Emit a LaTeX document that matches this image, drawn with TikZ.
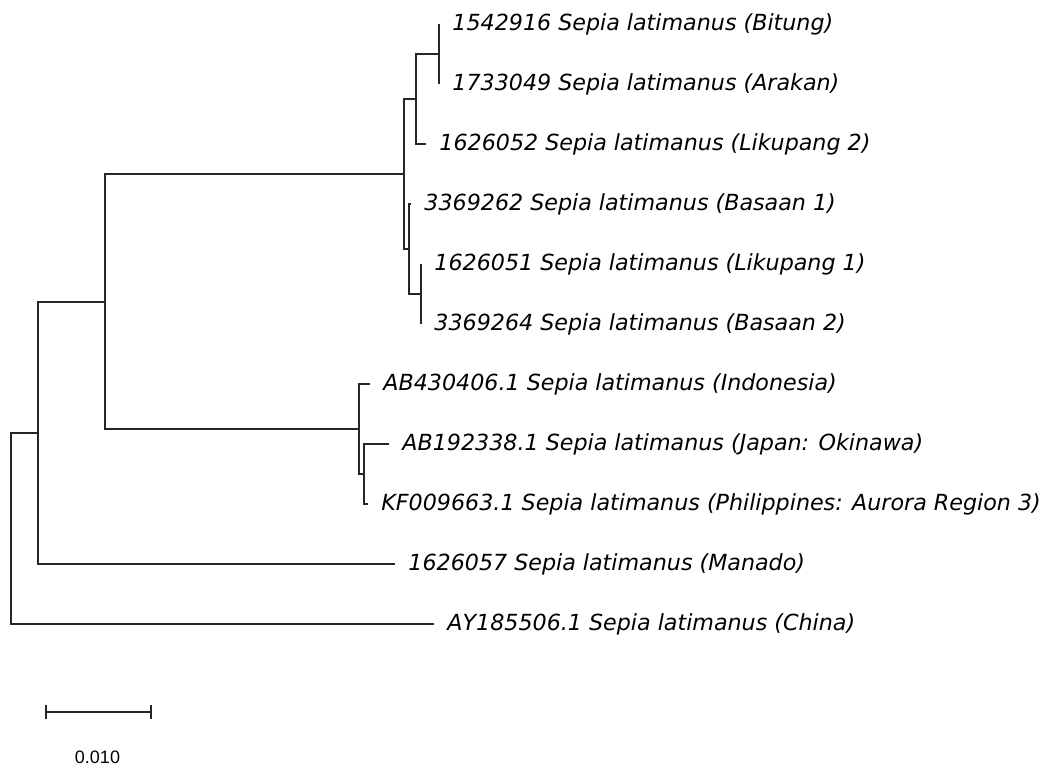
\documentclass[tikz,border=0pt]{standalone}
\usepackage{fontspec}
\setmainfont{DejaVu Sans}
\newfontfamily\scalebarfont{Liberation Sans}
\usetikzlibrary{arrows.meta}
\begin{document}
\begin{tikzpicture}[x=0.5pt,y=-0.5pt,
  branch/.style={line width=0.8pt, draw=black!85, line join=miter},
  taxon/.style={anchor=base west, inner sep=0pt, font=\fontsize{11.1}{13}\selectfont\itshape},
  scalelabel/.style={anchor=base, inner sep=0pt, font=\scalebarfont\fontsize{9}{10}\selectfont}]
\useasboundingbox (0,0) rectangle (1048,767);
% internal nodes
\coordinate (root) at (11,528);
\coordinate (n2) at (38,433);
\coordinate (n3) at (105,302);
\coordinate (nA) at (404,174);
\coordinate (nB) at (416,99);
\coordinate (nC) at (439,54);
\coordinate (nD) at (409,249);
\coordinate (nE) at (421,294);
\coordinate (nF) at (359,429);
\coordinate (nG) at (364,474);
% tips
\coordinate (tBit) at (439,24);
\coordinate (tAra) at (439,84);
\coordinate (tLikB) at (426,144);
\coordinate (tBasA) at (411,204);
\coordinate (tLikA) at (421,264);
\coordinate (tBasB) at (421,324);
\coordinate (tInd) at (370,384);
\coordinate (tJap) at (389,444);
\coordinate (tPhi) at (368,504);
\coordinate (tMan) at (395,564);
\coordinate (tChi) at (434,624);
% branches
\draw[branch] (root) |- (n2);
\draw[branch] (root) |- (tChi);
\draw[branch] (n2) |- (n3);
\draw[branch] (n2) |- (tMan);
\draw[branch] (n3) |- (nA);
\draw[branch] (n3) |- (nF);
\draw[branch] (nA) |- (nB);
\draw[branch] (nA) |- (nD);
\draw[branch] (nB) |- (nC);
\draw[branch] (nB) |- (tLikB);
\draw[branch] (nC) |- (tBit);
\draw[branch] (nC) |- (tAra);
\draw[branch] (nD) |- (tBasA);
\draw[branch] (nD) |- (nE);
\draw[branch] (nE) |- (tLikA);
\draw[branch] (nE) |- (tBasB);
\draw[branch] (nF) |- (tInd);
\draw[branch] (nF) |- (nG);
\draw[branch] (nG) |- (tJap);
\draw[branch] (nG) |- (tPhi);
% labels
\node[taxon] (lBit) at (452,30) {1542916 Sepia latimanus (Bitung)};
\node[taxon] (lAra) at (452,90) {1733049 Sepia latimanus (Arakan)};
\node[taxon] (lLikB) at (439,150) {1626052 Sepia latimanus (Likupang 2)};
\node[taxon] (lBasA) at (424,210) {3369262 Sepia latimanus (Basaan 1)};
\node[taxon] (lLikA) at (434,270) {1626051 Sepia latimanus (Likupang 1)};
\node[taxon] (lBasB) at (434,330) {3369264 Sepia latimanus (Basaan 2)};
\node[taxon] (lInd) at (383,390) {AB430406.1 Sepia latimanus (Indonesia)};
\node[taxon] (lJap) at (402,450) {AB192338.1 Sepia latimanus (Japan: Okinawa)};
\node[taxon] (lPhi) at (381,510) {KF009663.1 Sepia latimanus (Philippines: Aurora Region 3)};
\node[taxon] (lMan) at (408,570) {1626057 Sepia latimanus (Manado)};
\node[taxon] (lChi) at (447,630) {AY185506.1 Sepia latimanus (China)};
% scale bar
\coordinate (sL) at (45,712);
\coordinate (sR) at (152,712);
\draw[branch, {Bar[width=7pt]}-{Bar[width=7pt]}] (sL) -- (sR);
\node[scalelabel] (sLab) at (97.5,763) {0.010};
\end{tikzpicture}
\end{document}
